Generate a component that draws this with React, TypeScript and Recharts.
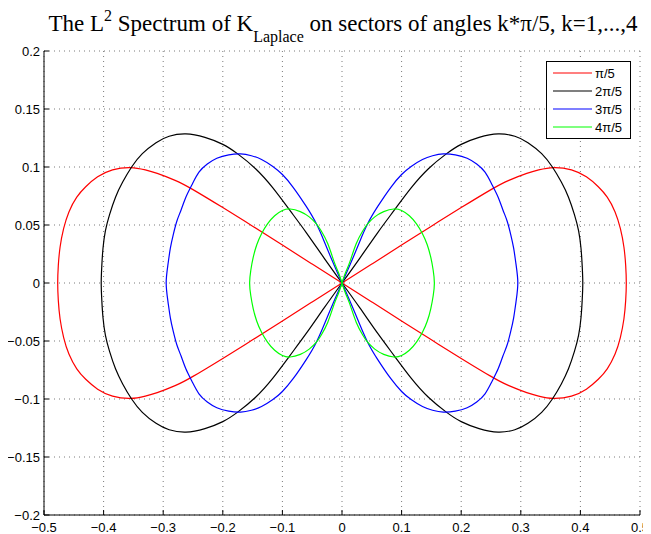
import React from "react";
import { LineChart, Line, XAxis, YAxis, CartesianGrid } from "recharts";

const xTicks = [-0.5, -0.4, -0.3, -0.2, -0.1, 0, 0.1, 0.2, 0.3, 0.4, 0.5];
const yTicks = [-0.2, -0.15, -0.1, -0.05, 0, 0.05, 0.1, 0.15, 0.2];

const seriesNames = ["π/5", "2π/5", "3π/5", "4π/5"];
const seriesColors = ["#ff0000", "#000000", "#0000ff", "#00ff00"];

// k = 1 (π/5)
const redPts: number[][] = [
  [0, 0], [0.05, 0.0163], [0.1, 0.0327], [0.15, 0.049], [0.2, 0.065], [0.25, 0.0805], [0.28, 0.0885], [0.31, 0.0945], [0.33, 0.0975], [0.355, 0.0995], [0.385, 0.0975], [0.41, 0.0915], [0.43, 0.083], [0.445, 0.074], [0.458, 0.0615], [0.467, 0.047], [0.473, 0.031], [0.476, 0.015], [0.477, 0],
  [0.476, -0.015], [0.473, -0.031], [0.467, -0.047], [0.458, -0.0615], [0.445, -0.074], [0.43, -0.083], [0.41, -0.0915], [0.385, -0.0975], [0.355, -0.0995], [0.33, -0.0975], [0.31, -0.0945], [0.28, -0.0885], [0.25, -0.0805], [0.2, -0.065], [0.15, -0.049], [0.1, -0.0327], [0.05, -0.0163], [0, 0],
  [-0.05, 0.0163], [-0.1, 0.0327], [-0.15, 0.049], [-0.2, 0.065], [-0.25, 0.0805], [-0.28, 0.0885], [-0.31, 0.0945], [-0.33, 0.0975], [-0.355, 0.0995], [-0.385, 0.0975], [-0.41, 0.0915], [-0.43, 0.083], [-0.445, 0.074], [-0.458, 0.0615], [-0.467, 0.047], [-0.473, 0.031], [-0.476, 0.015], [-0.477, 0],
  [-0.476, -0.015], [-0.473, -0.031], [-0.467, -0.047], [-0.458, -0.0615], [-0.445, -0.074], [-0.43, -0.083], [-0.41, -0.0915], [-0.385, -0.0975], [-0.355, -0.0995], [-0.33, -0.0975], [-0.31, -0.0945], [-0.28, -0.0885], [-0.25, -0.0805], [-0.2, -0.065], [-0.15, -0.049], [-0.1, -0.0327], [-0.05, -0.0163], [0, 0],
];

// k = 2 (2π/5)
const blackPts: number[][] = [
  [0, 0], [0.03, 0.0215], [0.06, 0.0435], [0.088, 0.063], [0.116, 0.082], [0.145, 0.0985], [0.175, 0.1113], [0.2, 0.1195], [0.23, 0.1255], [0.262, 0.1285], [0.29, 0.1265], [0.312, 0.121], [0.335, 0.1115], [0.353, 0.1], [0.368, 0.087], [0.38, 0.074], [0.39, 0.059], [0.397, 0.045], [0.401, 0.03], [0.403, 0.015], [0.404, 0],
  [0.403, -0.015], [0.401, -0.03], [0.397, -0.045], [0.39, -0.059], [0.38, -0.074], [0.368, -0.087], [0.353, -0.1], [0.335, -0.1115], [0.312, -0.121], [0.29, -0.1265], [0.262, -0.1285], [0.23, -0.1255], [0.2, -0.1195], [0.175, -0.1113], [0.145, -0.0985], [0.116, -0.082], [0.088, -0.063], [0.06, -0.0435], [0.03, -0.0215], [0, 0],
  [-0.03, 0.0215], [-0.06, 0.0435], [-0.088, 0.063], [-0.116, 0.082], [-0.145, 0.0985], [-0.175, 0.1113], [-0.2, 0.1195], [-0.23, 0.1255], [-0.262, 0.1285], [-0.29, 0.1265], [-0.312, 0.121], [-0.335, 0.1115], [-0.353, 0.1], [-0.368, 0.087], [-0.38, 0.074], [-0.39, 0.059], [-0.397, 0.045], [-0.401, 0.03], [-0.403, 0.015], [-0.404, 0],
  [-0.403, -0.015], [-0.401, -0.03], [-0.397, -0.045], [-0.39, -0.059], [-0.38, -0.074], [-0.368, -0.087], [-0.353, -0.1], [-0.335, -0.1115], [-0.312, -0.121], [-0.29, -0.1265], [-0.262, -0.1285], [-0.23, -0.1255], [-0.2, -0.1195], [-0.175, -0.1113], [-0.145, -0.0985], [-0.116, -0.082], [-0.088, -0.063], [-0.06, -0.0435], [-0.03, -0.0215], [0, 0],
];

// k = 3 (3π/5)
const bluePts: number[][] = [
  [0, 0], [0.012, 0.014], [0.022, 0.026], [0.03, 0.036], [0.043, 0.051], [0.06, 0.066], [0.082, 0.0825], [0.1, 0.0935], [0.116, 0.1005], [0.135, 0.1065], [0.152, 0.1097], [0.17, 0.1113], [0.19, 0.1105], [0.21, 0.1075], [0.226, 0.1025], [0.24, 0.0955], [0.252, 0.0845], [0.262, 0.074], [0.27, 0.063], [0.277, 0.0535], [0.283, 0.042], [0.288, 0.03], [0.292, 0.016], [0.295, 0],
  [0.292, -0.016], [0.288, -0.03], [0.283, -0.042], [0.277, -0.0535], [0.27, -0.063], [0.262, -0.074], [0.252, -0.0845], [0.24, -0.0955], [0.226, -0.1025], [0.21, -0.1075], [0.19, -0.1105], [0.17, -0.1113], [0.152, -0.1097], [0.135, -0.1065], [0.116, -0.1005], [0.1, -0.0935], [0.082, -0.0825], [0.06, -0.066], [0.043, -0.051], [0.03, -0.036], [0.022, -0.026], [0.012, -0.014], [0, 0],
  [-0.012, 0.014], [-0.022, 0.026], [-0.03, 0.036], [-0.043, 0.051], [-0.06, 0.066], [-0.082, 0.0825], [-0.1, 0.0935], [-0.116, 0.1005], [-0.135, 0.1065], [-0.152, 0.1097], [-0.17, 0.1113], [-0.19, 0.1105], [-0.21, 0.1075], [-0.226, 0.1025], [-0.24, 0.0955], [-0.252, 0.0845], [-0.262, 0.074], [-0.27, 0.063], [-0.277, 0.0535], [-0.283, 0.042], [-0.288, 0.03], [-0.292, 0.016], [-0.295, 0],
  [-0.292, -0.016], [-0.288, -0.03], [-0.283, -0.042], [-0.277, -0.0535], [-0.27, -0.063], [-0.262, -0.074], [-0.252, -0.0845], [-0.24, -0.0955], [-0.226, -0.1025], [-0.21, -0.1075], [-0.19, -0.1105], [-0.17, -0.1113], [-0.152, -0.1097], [-0.135, -0.1065], [-0.116, -0.1005], [-0.1, -0.0935], [-0.082, -0.0825], [-0.06, -0.066], [-0.043, -0.051], [-0.03, -0.036], [-0.022, -0.026], [-0.012, -0.014], [0, 0],
];

// k = 4 (4π/5)
const greenPts: number[][] = [
  [0, 0], [0.006, 0.009], [0.013, 0.018], [0.024, 0.034], [0.035, 0.045], [0.043, 0.051], [0.055, 0.057], [0.07, 0.0615], [0.087, 0.0638], [0.1, 0.0625], [0.113, 0.058], [0.125, 0.051], [0.135, 0.0425], [0.143, 0.033], [0.149, 0.022], [0.153, 0.011], [0.155, 0],
  [0.153, -0.011], [0.149, -0.022], [0.143, -0.033], [0.135, -0.0425], [0.125, -0.051], [0.113, -0.058], [0.1, -0.0625], [0.087, -0.0638], [0.07, -0.0615], [0.055, -0.057], [0.043, -0.051], [0.035, -0.045], [0.024, -0.034], [0.013, -0.018], [0.006, -0.009], [0, 0],
  [-0.006, 0.009], [-0.013, 0.018], [-0.024, 0.034], [-0.035, 0.045], [-0.043, 0.051], [-0.055, 0.057], [-0.07, 0.0615], [-0.087, 0.0638], [-0.1, 0.0625], [-0.113, 0.058], [-0.125, 0.051], [-0.135, 0.0425], [-0.143, 0.033], [-0.149, 0.022], [-0.153, 0.011], [-0.155, 0],
  [-0.153, -0.011], [-0.149, -0.022], [-0.143, -0.033], [-0.135, -0.0425], [-0.125, -0.051], [-0.113, -0.058], [-0.1, -0.0625], [-0.087, -0.0638], [-0.07, -0.0615], [-0.055, -0.057], [-0.043, -0.051], [-0.035, -0.045], [-0.024, -0.034], [-0.013, -0.018], [-0.006, -0.009], [0, 0],
];

const allSeries = [redPts, blackPts, bluePts, greenPts];

const W = 643;
const H = 526;

const fmt = (v: number) => {
  const r = Math.round(v * 1000) / 1000;
  if (r === 0) return "0";
  return r < 0 ? "\u2212" + String(-r) : String(r);
};

const tickStyle = { fill: "#000", fontSize: 13, fontFamily: "Liberation Sans, Arial, sans-serif" };

export default function App() {
  return (
    <div style={{ position: "relative", width: W, height: H }}>
      <LineChart width={W} height={H} margin={{ top: 43, right: 11, bottom: 0, left: 0 }}>
        <CartesianGrid stroke="#7a7a7a" strokeDasharray="1 4" strokeWidth={1} xAxisId={0} yAxisId={0} />
        <XAxis
          xAxisId={0}
          type="number"
          dataKey="x"
          domain={[-0.5, 0.5]}
          ticks={xTicks}
          interval={0}
          allowDataOverflow
          height={19}
          stroke="#000"
          tickSize={-5}
          tickMargin={13}
          tickFormatter={fmt}
          tick={tickStyle}
        />
        <XAxis
          xAxisId="top"
          orientation="top"
          type="number"
          dataKey="x"
          domain={[-0.5, 0.5]}
          ticks={xTicks}
          interval={0}
          allowDataOverflow
          mirror
          height={0}
          stroke="#000"
          tickSize={5}
          tickFormatter={() => ""}
        />
        <YAxis
          yAxisId={0}
          type="number"
          dataKey="y"
          domain={[-0.2, 0.2]}
          ticks={yTicks}
          interval={0}
          allowDataOverflow
          width={36}
          stroke="#000"
          tickSize={-5}
          tickMargin={9}
          tickFormatter={fmt}
          tick={tickStyle}
        />
        <YAxis
          yAxisId="right"
          orientation="right"
          type="number"
          dataKey="y"
          domain={[-0.2, 0.2]}
          ticks={yTicks}
          interval={0}
          allowDataOverflow
          mirror
          width={0}
          stroke="#000"
          tickSize={5}
          tickFormatter={() => ""}
        />
        {allSeries.map((pts, i) => (
          <Line
            key={seriesNames[i]}
            xAxisId={0}
            yAxisId={0}
            data={pts.map(([x, y]) => ({ x, y }))}
            dataKey="y"
            type="natural"
            stroke={seriesColors[i]}
            strokeWidth={1.2}
            dot={false}
            activeDot={false}
            isAnimationActive={false}
          />
        ))}
      </LineChart>
      <svg
        width={W}
        height={40}
        style={{ position: "absolute", left: 0, top: 0, overflow: "visible" }}
      >
        <text
          x={335}
          y={23}
          textAnchor="middle"
          fontFamily="Liberation Serif, Times New Roman, serif"
          fontSize={23}
          fill="#000"
        >
          The L
          <tspan fontSize={16} dy={-10}>2</tspan>
          <tspan dy={10}> Spectrum of K</tspan>
          <tspan fontSize={16} dy={11}>Laplace</tspan>
          <tspan dy={-11}> on sectors of angles k*π/5, k=1,...,4</tspan>
        </text>
      </svg>
      <div
        style={{
          position: "absolute",
          left: 538,
          top: 53,
          width: 85,
          height: 78,
          background: "#fff",
          border: "1px solid #000",
          boxSizing: "border-box",
        }}
      >
        <svg width={85} height={78} style={{ position: "absolute", left: -1, top: -1 }}>
          {seriesNames.map((name, i) => (
            <g key={name}>
              <line x1={7} x2={46} y1={12 + i * 18} y2={12 + i * 18} stroke={seriesColors[i]} strokeWidth={1.2} />
              <text
                x={49}
                y={12 + i * 18}
                dy="0.35em"
                fontFamily="Liberation Sans, Arial, sans-serif"
                fontSize={13}
                fill="#000"
              >
                {name}
              </text>
            </g>
          ))}
        </svg>
      </div>
    </div>
  );
}
